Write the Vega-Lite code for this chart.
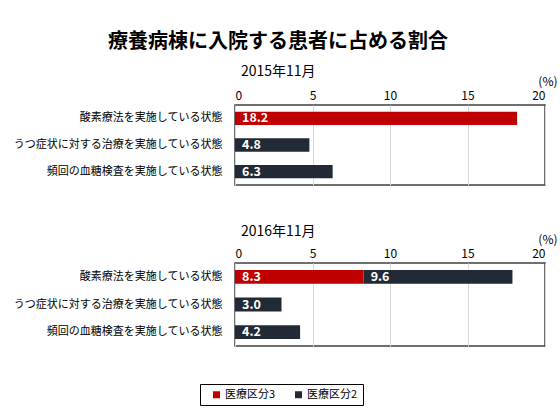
{
  "$schema": "https://vega.github.io/schema/vega-lite/v6.json",
  "padding": {"left": 12, "top": 32, "right": 3, "bottom": 5},
  "background": "white",
  "title": {
    "text": "療養病棟に入院する患者に占める割合",
    "font": "Noto Sans CJK JP",
    "fontSize": 20,
    "fontWeight": "bold",
    "color": "black",
    "anchor": "middle",
    "dx": -7,
    "offset": 12
  },
  "data": {
    "values": [
      {"year": "2015年11月", "item": "酸素療法を実施している状態", "cat": "医療区分3", "value": 18.2},
      {"year": "2015年11月", "item": "うつ症状に対する治療を実施している状態", "cat": "医療区分2", "value": 4.8},
      {"year": "2015年11月", "item": "頻回の血糖検査を実施している状態", "cat": "医療区分2", "value": 6.3},
      {"year": "2016年11月", "item": "酸素療法を実施している状態", "cat": "医療区分3", "value": 8.3},
      {"year": "2016年11月", "item": "酸素療法を実施している状態", "cat": "医療区分2", "value": 9.6},
      {"year": "2016年11月", "item": "うつ症状に対する治療を実施している状態", "cat": "医療区分2", "value": 3.0},
      {"year": "2016年11月", "item": "頻回の血糖検査を実施している状態", "cat": "医療区分2", "value": 4.2}
    ]
  },
  "transform": [
    {"stack": "value", "groupby": ["year", "item"], "sort": [{"field": "cat", "order": "descending"}], "as": ["v0", "v1"]}
  ],
  "spacing": 38,
  "vconcat": [
    {
      "title": {"text": "2015年11月", "anchor": "start", "frame": "group", "dx": 6, "offset": -4},
      "transform": [{"filter": "datum.year === '2015年11月'"}],
      "width": 310,
      "height": 80,
      "view": {"stroke": "#404040", "strokeWidth": 1.5},
      "encoding": {
        "x": {
          "field": "v0", "type": "quantitative",
          "scale": {"domain": [0, 20], "nice": false},
          "axis": {"orient": "top", "values": [0, 5, 10, 15, 20], "title": "(%)", "titleX": 322, "titleY": -24}
        },
        "y": {
          "field": "item", "type": "nominal",
          "sort": ["酸素療法を実施している状態", "うつ症状に対する治療を実施している状態", "頻回の血糖検査を実施している状態"]
        }
      },
      "layer": [
        {
          "mark": {"type": "bar"},
          "encoding": {
            "x2": {"field": "v1"},
            "color": {
              "field": "cat", "type": "nominal",
              "scale": {"domain": ["医療区分3", "医療区分2"], "range": ["#C00000", "#222A35"]}
            }
          }
        },
        {
          "mark": {"type": "text", "align": "left", "dx": 7, "color": "white", "fontWeight": "bold", "fontSize": 12.5},
          "encoding": {
            "text": {"field": "value", "type": "quantitative", "format": ".1f"}
          }
        }
      ]
    },
    {
      "title": {"text": "2016年11月", "anchor": "start", "frame": "group", "dx": 6, "offset": -6},
      "transform": [{"filter": "datum.year === '2016年11月'"}],
      "width": 310,
      "height": 83,
      "view": {"stroke": "#404040", "strokeWidth": 1.5},
      "encoding": {
        "x": {
          "field": "v0", "type": "quantitative",
          "scale": {"domain": [0, 20], "nice": false},
          "axis": {"orient": "top", "values": [0, 5, 10, 15, 20], "title": "(%)", "titleX": 322, "titleY": -24}
        },
        "y": {
          "field": "item", "type": "nominal",
          "sort": ["酸素療法を実施している状態", "うつ症状に対する治療を実施している状態", "頻回の血糖検査を実施している状態"]
        }
      },
      "layer": [
        {
          "mark": {"type": "bar"},
          "encoding": {
            "x2": {"field": "v1"},
            "color": {
              "field": "cat", "type": "nominal",
              "scale": {"domain": ["医療区分3", "医療区分2"], "range": ["#C00000", "#222A35"]}
            }
          }
        },
        {
          "mark": {"type": "text", "align": "left", "dx": 7, "color": "white", "fontWeight": "bold", "fontSize": 12.5},
          "encoding": {
            "text": {"field": "value", "type": "quantitative", "format": ".1f"}
          }
        }
      ]
    }
  ],
  "resolve": {"scale": {"y": "independent", "x": "independent"}, "axis": {"x": "independent", "y": "independent"}},
  "config": {
    "font": "Noto Sans CJK JP",
    "title": {"fontSize": 14, "fontWeight": "normal", "color": "black", "font": "Noto Sans CJK JP"},
    "scale": {"bandPaddingInner": 0.5, "bandPaddingOuter": 0.25},
    "axisY": {
      "title": null,
      "ticks": false,
      "domain": false,
      "grid": false,
      "labelFontSize": 11,
      "labelColor": "black",
      "labelPadding": 13,
      "labelLimit": 300
    },
    "axisX": {
      "titleFontSize": 12,
      "titleFontWeight": "normal",
      "titleColor": "black",
      "titleAlign": "right",
      "titleBaseline": "middle",
      "ticks": false,
      "domain": false,
      "grid": true,
      "gridColor": "#d9d9d9",
      "labelFontSize": 12,
      "labelColor": "black",
      "labelPadding": 3
    },
    "legend": {
      "orient": "none",
      "legendX": -35,
      "legendY": 279,
      "direction": "horizontal",
      "title": null,
      "symbolType": "square",
      "symbolSize": 49,
      "symbolStrokeWidth": 0,
      "labelFontSize": 11,
      "labelColor": "black",
      "labelOffset": 3,
      "columnPadding": 11,
      "symbolOffset": 6,
      "padding": 5,
      "strokeColor": "black"
    }
  }
}
